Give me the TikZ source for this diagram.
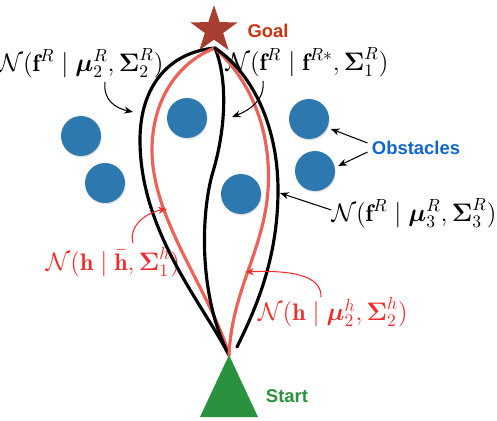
\documentclass[tikz,border=0pt]{standalone}
\usepackage{amsmath}
\usepackage{fontspec}
\setsansfont{Liberation Sans}
\usetikzlibrary{arrows.meta, shapes.geometric, shadows}
\definecolor{ObstBlue}{RGB}{44, 120, 175}
\definecolor{TagBlue}{RGB}{17, 102, 204}
\definecolor{StarRed}{RGB}{168, 62, 50}
\definecolor{GoalRed}{RGB}{204, 51, 17}
\definecolor{StartGreen}{RGB}{42, 145, 62}
\definecolor{TrajRed}{RGB}{236, 97, 88}
\definecolor{DistRed}{RGB}{240, 45, 45}

\begin{document}
\begin{tikzpicture}[x=0.02cm, y=-0.02cm,
    obst/.style={circle, fill=ObstBlue, minimum size=0.8cm, inner sep=0pt,
      drop shadow={opacity=0.25, shadow xshift=0.4pt, shadow yshift=-0.8pt}},
    tag/.style={font=\sffamily\bfseries\fontsize{10.5}{12}\selectfont, inner sep=0pt},
    dist/.style={font=\fontsize{13.6}{16}\selectfont, inner sep=0pt},
    traj/.style={line width=1.8pt, line cap=round},
    arr/.style={-{Stealth[length=5pt, width=4pt]}, semithick}
  ]
    \useasboundingbox (0,0) rectangle (497,420);

    % obstacles
    \node[obst] (o1) at (81,136)  {};
    \node[obst] (o2) at (105,183) {};
    \node[obst] (o3) at (187,118) {};
    \node[obst] (o4) at (309,119) {};
    \node[obst] (o5) at (315,171) {};
    \node[obst] (o6) at (241,194) {};

    % labels
    \node[dist] (lblA) at (81,63)
      {$\mathcal{N}(\mathbf{f}^R \mid \boldsymbol{\mu}_2^R, \boldsymbol{\Sigma}_2^R)$};
    \node[dist] (lblB) at (307,62)
      {$\mathcal{N}(\mathbf{f}^R \mid \mathbf{f}^{R*}, \boldsymbol{\Sigma}_1^R)$};
    \node[dist] (lblC) at (414,213)
      {$\mathcal{N}(\mathbf{f}^R \mid \boldsymbol{\mu}_3^R, \boldsymbol{\Sigma}_3^R)$};
    \node[dist, text=DistRed] (lblD) at (113,262)
      {$\mathcal{N}(\mathbf{h} \mid \bar{\mathbf{h}}, \boldsymbol{\Sigma}_1^h)$};
    \node[dist, text=DistRed] (lblE) at (333,312)
      {$\mathcal{N}(\mathbf{h} \mid \boldsymbol{\mu}_2^h, \boldsymbol{\Sigma}_2^h)$};

    \node[tag, text=GoalRed]    (goaltxt)  at (268,31)  {Goal};
    \node[tag, text=TagBlue]    (obs)      at (416,148) {Obstacles};
    \node[tag, text=StartGreen] (starttxt) at (287,396) {Start};

    % goal and start
    \node[star, star points=5, star point ratio=2.6, fill=StarRed,
      minimum size=1cm, inner sep=0pt] (goal) at (214,30) {};
    \coordinate (g) at (215,48);
    \coordinate (s) at (229,355);

    % trajectories
    \draw[traj] (g) .. controls (170,52) and (140,85) .. (140,140)
      .. controls (140,230) and (200,300) .. (s);
    \draw[traj, TrajRed] (g) .. controls (178,62) and (152,100) .. (152,150)
      .. controls (152,220) and (210,290) .. (s);
    \draw[traj] (g) .. controls (228,80) and (226,130) .. (212,175)
      .. controls (200,220) and (200,300) .. (s);
    \draw[traj, TrajRed] (g) .. controls (250,80) and (272,130) .. (268,190)
      .. controls (264,250) and (232,290) .. (s);
    \coordinate (e) at (237,347);
    \draw[traj] (g) .. controls (255,75) and (278,130) .. (278,190)
      .. controls (278,260) and (255,310) .. (e);

    \fill[StartGreen] (s) -- (258,417) -- (200,417) -- cycle;

    % pointers
    \coordinate (tA) at (133,112);
    \coordinate (tB) at (232,117);
    \coordinate (tC) at (280,193);
    \coordinate (tD) at (167,209);
    \coordinate (tE) at (245,272);

    \draw[arr] ([xshift=0.48cm, yshift=-0.08cm]lblA.south)
      .. controls (103,100) and (115,108) .. (tA);
    \draw[arr] ([xshift=-0.88cm, yshift=-0.08cm]lblB.south)
      .. controls (265,100) and (250,110) .. (tB);
    \draw[arr] ([yshift=0.06cm]lblC.west) -- (tC);
    \draw[arr, DistRed] ([xshift=0.4cm, yshift=0.08cm]lblD.north)
      .. controls (128,225) and (148,212) .. (tD);
    \draw[arr, DistRed] ([xshift=-0.24cm]lblE.north)
      .. controls (322,275) and (290,270) .. (tE);
    \draw[arr, shorten >=2pt] ([xshift=-0.08cm, yshift=0.1cm]obs.west) -- (o4.-25);
    \draw[arr, shorten >=2pt] ([xshift=-0.08cm, yshift=-0.08cm]obs.west) -- (o5.10);
  \end{tikzpicture}
\end{document}
